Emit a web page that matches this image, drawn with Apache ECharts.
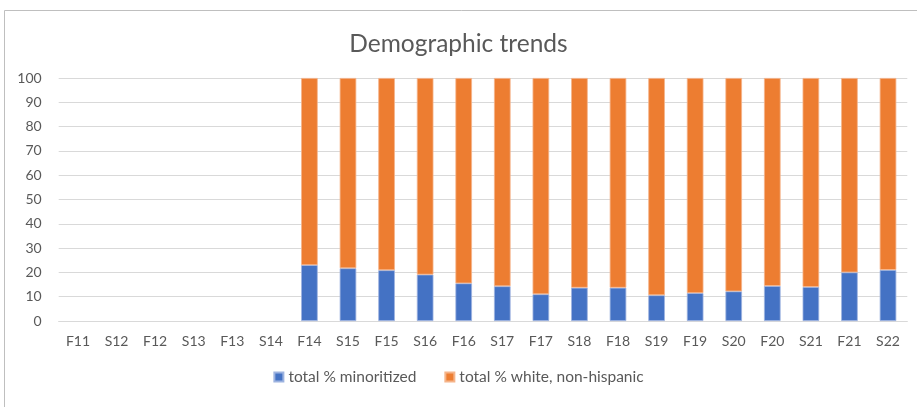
<!DOCTYPE html>
<html><head><meta charset="utf-8">
<script src="https://cdn.jsdelivr.net/npm/echarts@6/dist/echarts.min.js"></script>
<style>html,body{margin:0;padding:0;background:#fff}#c{width:917px;height:407px}</style>
</head><body><div id="c"></div>
<script>
const categories = ["F11","S12","F12","S13","F13","S14","F14","S15","F15","S16","F16","S17","F17","S18","F18","S19","F19","S20","F20","S21","F21","S22"];
const minoritized = [null,null,null,null,null,null,23.0,21.7,20.9,19.1,15.5,14.3,11.0,13.7,13.7,10.6,11.5,12.2,14.4,14.0,20.0,21.0];
const white = [null,null,null,null,null,null,77.0,78.3,79.1,80.9,84.5,85.7,89.0,86.3,86.3,89.4,88.5,87.8,85.6,86.0,80.0,79.0];
const yTicks = {min:0, max:100, interval:10};

const chart = echarts.init(document.getElementById('c'), null, {renderer:'canvas'});
const font = 'Lato, "Open Sans", sans-serif';
chart.setOption({
  animation:false,
  backgroundColor:'#fff',
  graphic:[{type:'rect', shape:{x:4.5,y:10.5,width:930,height:420}, style:{fill:'none',stroke:'#bfbfbf',lineWidth:1}, silent:true}],
  title:{text:'Demographic trends', left:'center', top:27, textStyle:{fontFamily:font, fontWeight:'normal', fontSize:24.5, color:'#595959'}},
  grid:{left:58.7, right:9.7, top:78, bottom:86, containLabel:false},
  legend:{bottom:17, left:'center', itemWidth:9, itemHeight:9, itemGap:28, icon:'rect',
    textStyle:{fontFamily:font, fontSize:15.5, color:'#595959', padding:[0,0,0,0]},
    data:['total % minoritized','total % white, non-hispanic']},
  xAxis:{type:'category', data:categories, axisTick:{show:false},
    axisLine:{lineStyle:{color:'#d9d9d9'}},
    axisLabel:{fontFamily:font, fontSize:14, color:'#595959', margin:13, interval:0}},
  yAxis:{type:'value', min:yTicks.min, max:yTicks.max, interval:yTicks.interval,
    axisLine:{show:false}, axisTick:{show:false},
    splitLine:{lineStyle:{color:'#d9d9d9'}},
    axisLabel:{fontFamily:font, fontSize:14, color:'#595959', margin:17}},
  series:[
    {name:'total % minoritized', type:'bar', stack:'a', data:minoritized, barWidth:'43%',
     itemStyle:{color:'#4472C4', borderColor:'#9db3e0', borderWidth:0.8}},
    {name:'total % white, non-hispanic', type:'bar', stack:'a', data:white, barWidth:'43%',
     itemStyle:{color:'#ED7D31', borderColor:'#f5b48a', borderWidth:0.8}}
  ]
});
</script></body></html>
